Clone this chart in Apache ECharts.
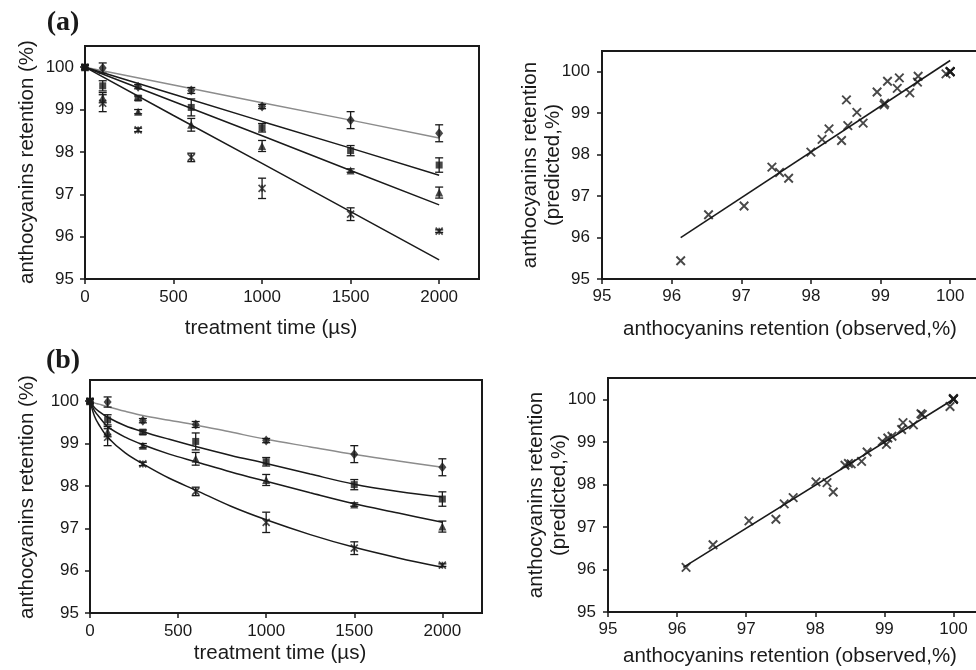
<!DOCTYPE html>
<html><head><meta charset="utf-8">
<script src="https://cdn.jsdelivr.net/npm/echarts@6/dist/echarts.min.js"></script>
<style>html,body{margin:0;padding:0;background:#fff}#c{width:976px;height:670px}</style>
</head><body><div id="c"></div>
<script>
// ---- measured data (treatment time, µs) ----
const times = [0, 100, 300, 600, 1000, 1500, 2000];
const diamondObs = [100, 99.98, 99.54, 99.45, 99.07, 98.75, 98.44];
const diamondErr = [0.05, 0.12, 0.05, 0.07, 0.05, 0.2, 0.2];
const squareObs = [100, 99.56, 99.27, 99.05, 98.57, 98.03, 97.69];
const squareErr = [0.05, 0.12, 0.05, 0.2, 0.1, 0.12, 0.17];
const triangleObs = [100, 99.28, 98.95, 98.64, 98.14, 97.56, 97.04];
const triangleErr = [0.05, 0.12, 0.05, 0.15, 0.13, 0.04, 0.13];
const starObs = [100, 99.15, 98.52, 97.87, 97.14, 96.53, 96.13];
const starErr = [0.05, 0.2, 0.04, 0.1, 0.24, 0.15, 0.03];

// ---- fitted curves, panel (a) ----
const fitTimesA = [0, 500, 1000, 1500, 2000];
const fitADiamond = [100, 99.58, 99.16, 98.75, 98.33];
const fitASquare = [100, 99.36, 98.72, 98.09, 97.45];
const fitATriangle = [100, 99.19, 98.38, 97.56, 96.75];
const fitAStar = [100, 98.86, 97.73, 96.59, 95.45];

// ---- fitted curves, panel (b) ----
const fitTimesB = [0, 25, 50, 100, 200, 300, 450, 600, 800, 1000, 1250, 1500, 1750, 2000];
const fitBDiamond = [100, 99.96, 99.93, 99.87, 99.76, 99.66, 99.55, 99.44, 99.27, 99.1, 98.92, 98.74, 98.59, 98.44];
const fitBSquare = [100, 99.85, 99.76, 99.62, 99.42, 99.28, 99.1, 98.93, 98.72, 98.53, 98.28, 98.04, 97.87, 97.74];
const fitBTriangle = [100, 99.78, 99.64, 99.4, 99.15, 98.97, 98.75, 98.57, 98.33, 98.11, 97.84, 97.58, 97.36, 97.14];
const fitBStar = [100, 99.65, 99.45, 99.15, 98.78, 98.52, 98.18, 97.9, 97.52, 97.2, 96.85, 96.55, 96.3, 96.08];

// ---- observed vs predicted, panel (a) ----
const obsA = [96.13, 96.53, 97.04, 97.44, 97.55, 97.68, 98.0, 98.16, 98.26, 98.44, 98.51, 98.53, 98.66, 98.75, 98.95, 99.05, 99.06, 99.10, 99.24, 99.27, 99.42, 99.53, 99.54, 99.94, 100, 100, 100, 100];
const predA = [95.44, 96.55, 96.76, 97.70, 97.57, 97.43, 98.06, 98.37, 98.62, 98.34, 99.32, 98.70, 99.02, 98.76, 99.51, 99.20, 99.24, 99.77, 99.60, 99.85, 99.49, 99.75, 99.89, 99.95, 100.01, 100, 100, 100];
const lineAObs = [96.13, 100.0];
const lineAPred = [96.0, 100.27];

// ---- observed vs predicted, panel (b) ----
const obsB = [96.13, 96.52, 97.04, 97.43, 97.55, 97.68, 98.01, 98.17, 98.26, 98.43, 98.48, 98.52, 98.67, 98.75, 98.97, 99.03, 99.05, 99.11, 99.25, 99.27, 99.42, 99.53, 99.55, 99.95, 100, 100, 100, 100];
const predB = [96.05, 96.58, 97.14, 97.18, 97.54, 97.69, 98.06, 98.04, 97.82, 98.45, 98.49, 98.48, 98.54, 98.76, 99.01, 98.94, 99.09, 99.13, 99.29, 99.45, 99.40, 99.66, 99.64, 99.83, 100.02, 100, 100, 100];
const lineBObs = [96.09, 100.03];
const lineBPred = [96.05, 100.03];

// ---- tick labels ----
const timeTicks = [0, 500, 1000, 1500, 2000];
const retentionTicks = [95, 96, 97, 98, 99, 100];

const FONT = 'Liberation Sans, Arial, sans-serif';
const INK = '#1a1a1a';
const STAR = 'path://M0,0L10,10M10,0L0,10M5,0L5,10';
const XMARK = 'path://M0,0L10,10M10,0L0,10';

function valueAxis(gi, min, max, interval, ticks, margin) {
  return {
    type: 'value', gridIndex: gi, min: min, max: max, interval: interval,
    axisLine: { show: true, lineStyle: { color: INK, width: 2 } },
    axisTick: { show: true, inside: false, length: 5, customValues: ticks, lineStyle: { color: INK, width: 1.5 } },
    axisLabel: { customValues: ticks, fontSize: 17, color: INK, fontFamily: FONT, margin: margin,
      formatter: function (v) { return String(v); } },
    splitLine: { show: false }
  };
}

function errSeries(gi, obs, err) {
  return {
    type: 'custom', xAxisIndex: gi, yAxisIndex: gi, z: 3,
    encode: { x: 0, y: 1 },
    data: times.map((t, i) => [t, obs[i], err[i]]),
    renderItem: function (params, api) {
      const x = api.value(0), y = api.value(1), e = api.value(2);
      const top = api.coord([x, y + e]);
      const bot = api.coord([x, y - e]);
      const cw = 4;
      const st = { stroke: INK, lineWidth: 1.3 };
      return { type: 'group', children: [
        { type: 'line', shape: { x1: top[0], y1: top[1], x2: bot[0], y2: bot[1] }, style: st },
        { type: 'line', shape: { x1: top[0] - cw, y1: top[1], x2: top[0] + cw, y2: top[1] }, style: st },
        { type: 'line', shape: { x1: bot[0] - cw, y1: bot[1], x2: bot[0] + cw, y2: bot[1] }, style: st }
      ] };
    }
  };
}

function markSeries(gi, obs, symbol, size, stroke) {
  return {
    type: 'scatter', xAxisIndex: gi, yAxisIndex: gi, z: 4,
    symbol: symbol, symbolSize: size,
    data: times.map((t, i) => [t, obs[i]]),
    itemStyle: stroke ? { color: 'transparent', borderColor: INK, borderWidth: 1.6 } : { color: INK }
  };
}

function fitSeries(gi, xs, ys, color, smooth) {
  return {
    type: 'line', xAxisIndex: gi, yAxisIndex: gi, z: 2,
    data: xs.map((t, i) => [t, ys[i]]),
    showSymbol: false, smooth: smooth ? 0.35 : false,
    lineStyle: { color: color, width: 1.5 }
  };
}

function panelSeries(gi, fx, fd, fs, ft, fst, smooth) {
  return [
    fitSeries(gi, fx, fd, '#8c8c8c', smooth),
    fitSeries(gi, fx, fs, INK, smooth),
    fitSeries(gi, fx, ft, INK, smooth),
    fitSeries(gi, fx, fst, INK, smooth),
    errSeries(gi, diamondObs, diamondErr),
    errSeries(gi, squareObs, squareErr),
    errSeries(gi, triangleObs, triangleErr),
    errSeries(gi, starObs, starErr),
    markSeries(gi, diamondObs, 'diamond', [8, 10], false),
    markSeries(gi, squareObs, 'rect', 7, false),
    markSeries(gi, triangleObs, 'triangle', 8, false),
    markSeries(gi, starObs, STAR, 7, true)
  ];
}

function scatterPanel(gi, obs, pred, lo, lp) {
  return [
    { type: 'line', xAxisIndex: gi, yAxisIndex: gi, showSymbol: false, z: 2,
      data: lo.map((v, i) => [v, lp[i]]), lineStyle: { color: INK, width: 1.6 } },
    { type: 'scatter', xAxisIndex: gi, yAxisIndex: gi, z: 3, symbol: XMARK, symbolSize: 8.5,
      data: obs.map((v, i) => [v, pred[i]]),
      itemStyle: { color: 'transparent', borderColor: INK, borderWidth: 1.9 } }
  ];
}

const gridStyle = { show: true, borderColor: INK, borderWidth: 2, backgroundColor: 'transparent',
  containLabel: false, outerBoundsMode: 'none' };

const titleStyle = { fontSize: 20.5, fontFamily: FONT, fill: INK };
function txt(x, y, text, rot, extra) {
  return { type: 'text', x: x, y: y, rotation: rot || 0,
    style: Object.assign({ text: text, align: 'center', verticalAlign: 'middle' }, titleStyle, extra || {}) };
}

const chart = echarts.init(document.getElementById('c'), null, { renderer: 'canvas' });
chart.setOption({
  animation: false,
  backgroundColor: '#fff',
  grid: [
    Object.assign({ left: 85, top: 46, width: 394, height: 233 }, gridStyle),
    Object.assign({ left: 602, top: 51, width: 383, height: 228 }, gridStyle),
    Object.assign({ left: 90, top: 380, width: 392, height: 233 }, gridStyle),
    Object.assign({ left: 608, top: 378, width: 380, height: 234 }, gridStyle)
  ],
  xAxis: [
    valueAxis(0, 0, 2225, 500, timeTicks, 10),
    valueAxis(1, 95, 100.5, 1, retentionTicks, 9),
    valueAxis(2, 0, 2225, 500, timeTicks, 10),
    valueAxis(3, 95, 100.5, 1, retentionTicks, 9)
  ],
  yAxis: [
    valueAxis(0, 95, 100.5, 1, retentionTicks, 11),
    valueAxis(1, 95, 100.5, 1, retentionTicks, 12),
    valueAxis(2, 95, 100.5, 1, retentionTicks, 11),
    valueAxis(3, 95, 100.5, 1, retentionTicks, 12)
  ],
  series: [].concat(
    panelSeries(0, fitTimesA, fitADiamond, fitASquare, fitATriangle, fitAStar, false),
    scatterPanel(1, obsA, predA, lineAObs, lineAPred),
    panelSeries(2, fitTimesB, fitBDiamond, fitBSquare, fitBTriangle, fitBStar, true),
    scatterPanel(3, obsB, predB, lineBObs, lineBPred)
  ),
  graphic: [
    txt(63, 23, '(a)', 0, { fontSize: 28, fontWeight: 'bold', fontFamily: 'Liberation Serif, Times New Roman, serif' }),
    txt(63, 361, '(b)', 0, { fontSize: 28, fontWeight: 'bold', fontFamily: 'Liberation Serif, Times New Roman, serif' }),
    txt(271, 328, 'treatment time (µs)'),
    txt(280, 653, 'treatment time (µs)'),
    txt(790, 329, 'anthocyanins retention (observed,%)'),
    txt(790, 656, 'anthocyanins retention (observed,%)'),
    txt(27, 162, 'anthocyanins retention (%)', Math.PI / 2),
    txt(27, 497, 'anthocyanins retention (%)', Math.PI / 2),
    txt(530, 165, 'anthocyanins retention', Math.PI / 2),
    txt(553, 165, '(predicted,%)', Math.PI / 2),
    txt(536, 495, 'anthocyanins retention', Math.PI / 2),
    txt(559, 495, '(predicted,%)', Math.PI / 2)
  ]
});
</script>
</body></html>
